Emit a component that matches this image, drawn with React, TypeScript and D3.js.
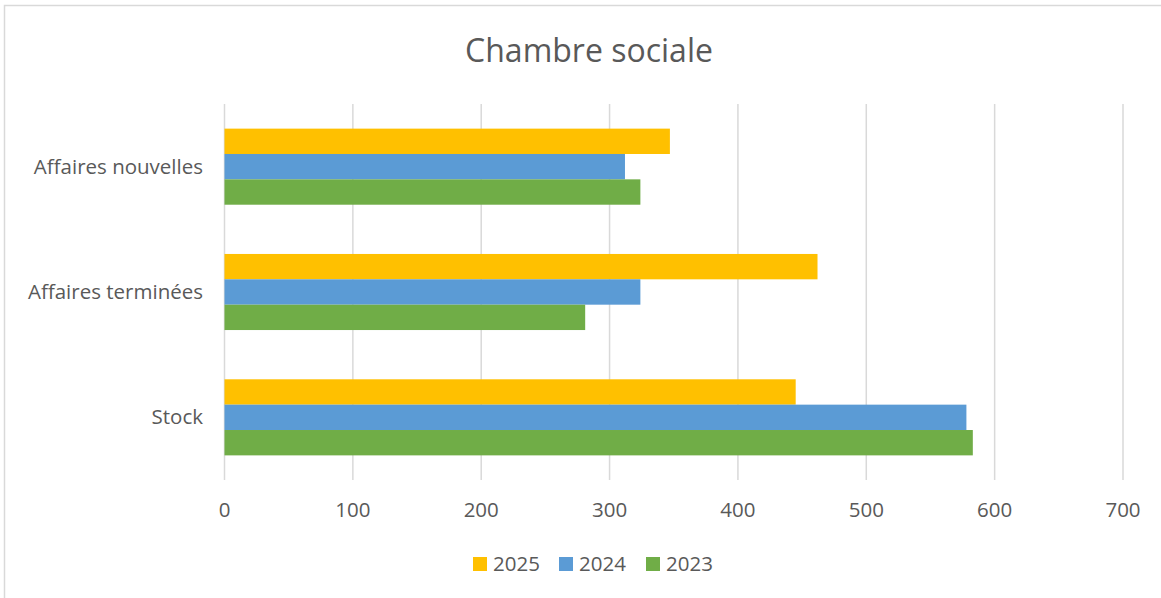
import React from "react";
import * as d3 from "d3";

const categories = ["Affaires nouvelles", "Affaires terminées", "Stock"];
const seriesNames = ["2025", "2024", "2023"];
const values2025 = [347, 462, 445];
const values2024 = [312, 324, 578];
const values2023 = [324, 281, 583];
const xTicks = [0, 100, 200, 300, 400, 500, 600, 700];
const colors = ["#FFC000", "#5B9BD5", "#70AD47"];

const W = 1161;
const H = 598;
const FONT = "'Open Sans', sans-serif";
const FS = 20.5;

export default function App() {
  const seriesValues = [values2025, values2024, values2023];
  const x = d3.scaleLinear().domain([0, 700]).range([224.5, 1123]);
  const y = d3
    .scaleBand<string>()
    .domain(categories)
    .range([104, 480])
    .paddingInner(0.393)
    .paddingOuter(0.393 / 2);
  const ySub = d3.scaleBand<string>().domain(seriesNames).range([0, y.bandwidth()]);

  const legendX = [473, 559, 646];

  return (
    <svg
      width={W}
      height={H}
      style={{ position: "absolute", left: 0, top: 0, background: "#fff" }}
    >
      <rect x={4.5} y={5.5} width={W + 10} height={H + 10} fill="#fff" stroke="#d9d9d9" strokeWidth={1.5} />
      <text x={589} y={62} textAnchor="middle" fontFamily={FONT} fontSize={32} fill="#595959">
        Chambre sociale
      </text>
      {xTicks.map((t) => (
        <g key={t}>
          <line x1={x(t)} x2={x(t)} y1={104} y2={480} stroke="#d9d9d9" strokeWidth={1.5} />
          <text x={x(t)} y={517} textAnchor="middle" fontFamily={FONT} fontSize={FS} fill="#595959">
            {t}
          </text>
        </g>
      ))}
      {categories.map((c, ci) => (
        <g key={c}>
          <text
            x={203}
            y={y(c)! + y.bandwidth() / 2 + 7}
            textAnchor="end"
            fontFamily={FONT}
            fontSize={FS}
            fill="#595959"
          >
            {c}
          </text>
          {seriesNames.map((s, si) => (
            <rect
              key={s}
              x={x(0)}
              y={y(c)! + ySub(s)!}
              width={x(seriesValues[si][ci]) - x(0)}
              height={ySub.bandwidth()}
              fill={colors[si]}
            />
          ))}
        </g>
      ))}
      {seriesNames.map((s, si) => (
        <g key={s}>
          <rect x={legendX[si]} y={557} width={14} height={14} fill={colors[si]} />
          <text x={legendX[si] + 20} y={571} fontFamily={FONT} fontSize={FS} fill="#595959">
            {s}
          </text>
        </g>
      ))}
    </svg>
  );
}
